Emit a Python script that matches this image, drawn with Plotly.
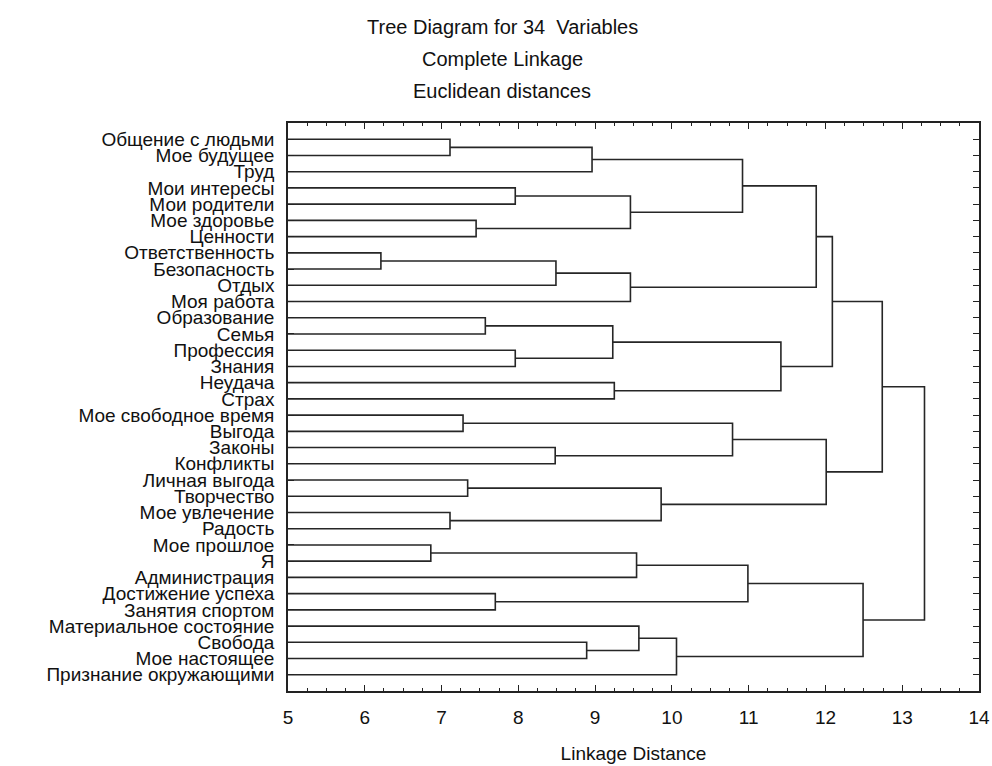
import plotly.graph_objects as go

# ---- data ----
leaf_labels = [
    "Общение с людьми", "Мое будущее", "Труд", "Мои интересы", "Мои родители",
    "Мое здоровье", "Ценности", "Ответственность", "Безопасность", "Отдых",
    "Моя работа", "Образование", "Семья", "Профессия", "Знания",
    "Неудача", "Страх", "Мое свободное время", "Выгода", "Законы",
    "Конфликты", "Личная выгода", "Творчество", "Мое увлечение", "Радость",
    "Мое прошлое", "Я", "Администрация", "Достижение успеха", "Занятия спортом",
    "Материальное состояние", "Свобода", "Мое настоящее", "Признание окружающими",
]

# linkage: leaves are 0..33, merge k creates cluster id 34+k
merge_left = [7, 25, 0, 23, 17, 21, 5, 11, 28, 3, 13, 19, 34, 31, 36, 41, 15,
              43, 46, 35, 30, 39, 54, 38, 48, 53, 49, 58, 57, 61, 59, 63, 65]
merge_right = [8, 26, 1, 24, 18, 22, 6, 12, 29, 4, 14, 20, 9, 32, 2, 44, 16,
               40, 10, 27, 47, 37, 33, 45, 51, 42, 50, 52, 55, 60, 56, 62, 64]
merge_height = [6.21, 6.86, 7.11, 7.11, 7.28, 7.34, 7.45, 7.57, 7.70, 7.96, 7.96,
                8.48, 8.49, 8.89, 8.96, 9.23, 9.25, 9.46, 9.46, 9.54, 9.57, 9.86,
                10.06, 10.79, 10.92, 10.99, 11.42, 11.88, 12.01, 12.09, 12.49,
                12.74, 13.29]

x_ticks = [5, 6, 7, 8, 9, 10, 11, 12, 13, 14]

title_lines = ["Tree Diagram for 34  Variables", "Complete Linkage", "Euclidean distances"]

# ---- build dendrogram segments from the linkage ----
x_min, x_max = 5, 14
n = len(leaf_labels)
leaf_pos = list(range(1, n + 1))
pos = {i: leaf_pos[i] for i in range(n)}
hgt = {i: x_min for i in range(n)}
xs, ys = [], []
for k, (a, b, h) in enumerate(zip(merge_left, merge_right, merge_height)):
    xs += [hgt[a], h, h, hgt[b], None]
    ys += [pos[a], pos[a], pos[b], pos[b], None]
    cid = n + k
    pos[cid] = (pos[a] + pos[b]) / 2
    hgt[cid] = h

font_family = "Liberation Sans, Arial, sans-serif"
W, H = 992, 766
M_L, M_R, M_T, M_B = 288, 13, 123, 75
plot_h = H - M_T - M_B

fig = go.Figure()
fig.add_trace(go.Scatter(
    x=xs, y=ys, mode="lines",
    line=dict(color="#262626", width=1.6),
    hoverinfo="skip", showlegend=False, connectgaps=False,
))

title_y_px = [27, 59, 91]
annotations = [
    dict(text=t, xref="paper", yref="paper", x=0.31, y=1 + (M_T - py) / plot_h,
         xanchor="center", yanchor="middle", showarrow=False,
         font=dict(size=20, color="#111", family=font_family))
    for t, py in zip(title_lines, title_y_px)
]

fig.update_layout(
    width=W, height=H,
    margin=dict(l=M_L, r=M_R, t=M_T, b=M_B, autoexpand=False),
    paper_bgcolor="white", plot_bgcolor="white",
    font=dict(family=font_family, color="#111"),
    xaxis=dict(
        range=[x_min, x_max], tickvals=x_ticks, ticktext=[str(v) for v in x_ticks],
        ticks="inside", ticklen=6, tickwidth=1.3, tickcolor="#222",
        showline=True, linecolor="#222", linewidth=1.6, mirror="ticks",
        showgrid=False, zeroline=False, automargin=False,
        minor=dict(dtick=0.25, ticks="inside", ticklen=3, tickcolor="#222", showgrid=False),
        tickfont=dict(size=19, color="#111"),
        ticklabelstandoff=8,
        title=dict(text="Linkage Distance", font=dict(size=19, color="#111"), standoff=20),
    ),
    yaxis=dict(
        range=[n + 1, 0], tickvals=leaf_pos, ticktext=leaf_labels,
        ticks="inside", ticklen=6, tickwidth=1.3, tickcolor="#222",
        showline=True, linecolor="#222", linewidth=1.6, mirror="ticks",
        showgrid=False, zeroline=False, automargin=False,
        tickfont=dict(size=19, color="#111"),
        ticklabelstandoff=8,
    ),
    annotations=annotations,
)

fig.write_html("out.html")
